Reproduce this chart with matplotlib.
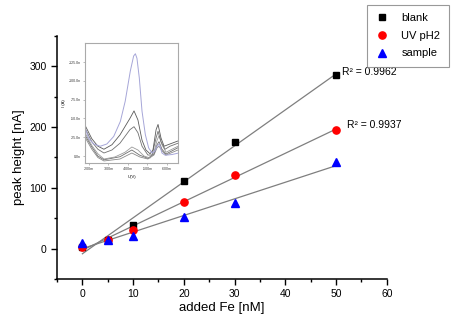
import numpy as np
import matplotlib
matplotlib.use("Agg")
import matplotlib.pyplot as plt
from matplotlib.ticker import MultipleLocator

plt.rcParams['font.family'] = ['Liberation Sans', 'DejaVu Sans']

# ---- main data ----
added_fe = [0, 5, 10, 20, 30, 50]
blank = [2, 15, 39.5, 112, 176, 285.5]
uv_ph2 = [3, 15, 31, 77, 122, 195.5]
sample = [9, 14, 21, 52, 75, 143]
series_names = ["blank", "UV pH2", "sample"]
r2_labels = ["R\u00b2 = 0.9962", "R\u00b2 = 0.9937"]
r2_pos = [(51.2, 291.5), (52.1, 203)]

# ---- inset data (voltammograms, U in mV, I in nA) ----
blue_u = [-178, -198, -224, -258, -292, -327, -361, -386, -412, -429, -438, -446,
          -458, -472, -489, -506, -523, -537, -549, -561, -574, -591, -626, -660]
blue_i = [-39.5, -24, -16, -13, -16, -26, -46, -73, -113, -133, -136, -130,
          -104, -59.5, -28.4, -10.7, -4.1, -6.3, -13, -16, -4, -1, -2, -4]
g1_u = [-180, -215, -246, -277, -318, -359, -410, -431, -451, -472, -492, -513, -528, -544, -554, -569, -585, -615, -656]
g1_i = [-41, -23, -13, -9, -15, -28, -50, -60, -48, -21, -8, -3, -8, -35, -42, -24, -13, -16, -20]
g2_u = [-180, -215, -246, -277, -318, -359, -410, -431, -451, -472, -502, -523, -544, -554, -569, -590, -615, -656]
g2_i = [-37, -19, -9, -4, -8, -17, -35, -39, -31, -13, -1.3, -1.3, -24, -33, -19, -9, -13, -17]
g3_u = [-180, -215, -246, -277, -333, -385, -420, -451, -482, -513, -533, -549, -559, -574, -595, -656]
g3_i = [-31, -14, -3, 4, 1.3, -5, -12, -8, 0, 2.7, -5, -21, -27, -15, -5, -13]
g4_u = [-180, -215, -246, -277, -359, -420, -461, -502, -533, -549, -559, -574, -595, -656]
g4_i = [-28, -12, 0, 5, 1, -8, -1, 3, -2.7, -15, -19, -9, -2.7, -11]
g5_u = [-180, -215, -246, -277, -359, -420, -461, -502, -533, -549, -559, -574, -595, -656]
g5_i = [-25, -9, 2, 6.6, 4, -4, 1.3, 4, -1.3, -11, -13, -7, -1.3, -8]

fig = plt.figure(figsize=(4.54, 3.26), dpi=100)
ax = fig.add_axes([0.1256, 0.1442, 0.7264, 0.7454])

x = np.array(added_fe, dtype=float)
styles = [dict(marker='s', color='black', ms=4.8),
          dict(marker='o', color='red', ms=5.2),
          dict(marker='^', color='blue', ms=5.8)]
handles = []
for ys, st, name in zip([blank, uv_ph2, sample], styles, series_names):
    y = np.array(ys, dtype=float)
    k, b = np.polyfit(x, y, 1)
    xx = np.array([x.min(), x.max()])
    ax.plot(xx, k * xx + b, color='#7f7f7f', lw=0.9, zorder=2)
    h, = ax.plot(x, y, linestyle='none', marker=st['marker'], color=st['color'],
                 ms=st['ms'], zorder=3, label=name)
    handles.append(h)

for txt, (tx, ty) in zip(r2_labels, r2_pos):
    ax.text(tx, ty, txt, fontsize=7.5, va='center', ha='left')

ax.set_xlim(-5, 60)
ax.set_ylim(-50, 350)
ax.xaxis.set_major_locator(MultipleLocator(10))
ax.xaxis.set_minor_locator(MultipleLocator(5))
ax.yaxis.set_major_locator(MultipleLocator(100))
ax.yaxis.set_minor_locator(MultipleLocator(50))
for s in ['top', 'right']:
    ax.spines[s].set_visible(False)
for s in ['left', 'bottom']:
    ax.spines[s].set_linewidth(1.1)
ax.tick_params(which='major', direction='out', length=4, width=1.0, labelsize=7.5)
ax.tick_params(which='minor', direction='out', length=2.5, width=1.0)
ax.set_xlabel("added Fe [nM]", fontsize=9.5, labelpad=2)
ax.set_ylabel("peak height [nA]", fontsize=9.5, labelpad=3)

leg = fig.legend(handles=handles, loc='upper right', bbox_to_anchor=(0.993, 0.993),
                 fontsize=8, frameon=True, fancybox=False, edgecolor='#808080',
                 handlelength=1.2, handletextpad=1.1, borderpad=0.75, labelspacing=0.7,
                 borderaxespad=0.2)
leg.get_frame().set_linewidth(0.8)

# ---- inset ----
ins = fig.add_axes([0.1872, 0.5, 0.2048, 0.369])
ins.plot(g5_u, g5_i, color='#8a8a8a', lw=0.6)
ins.plot(g4_u, g4_i, color='#6e6e6e', lw=0.6)
ins.plot(g3_u, g3_i, color='#9a9a9a', lw=0.6)
ins.plot(g2_u, g2_i, color='#707070', lw=0.6)
ins.plot(g1_u, g1_i, color='#5a5a5a', lw=0.6)
ins.plot(blue_u, blue_i, color='#a6a6d8', lw=0.7)
ins.set_xlim(-180, -656)
ins.set_ylim(9.3, -150.7)
ins.set_xticks([-200, -300, -400, -500, -600])
ins.set_xticklabels(["-200m", "-300m", "-400m", "-500m", "-600m"])
ins.set_yticks([0, -25, -50, -75, -100, -125])
ins.set_yticklabels(["0.0n", "-25.0n", "-50.0n", "-75.0n", "-100.0n", "-125.0n"])
ins.tick_params(labelsize=2.5, length=1.2, width=0.4, colors='#888888', labelcolor='#333333', pad=1.5)
for s in ins.spines.values():
    s.set_color('#aaaaaa')
    s.set_linewidth(0.8)
ins.set_xlabel("U(V)", fontsize=3, labelpad=3)
ins.set_ylabel("I (A)", fontsize=3, labelpad=2)

fig.savefig("out.png", dpi=100)
